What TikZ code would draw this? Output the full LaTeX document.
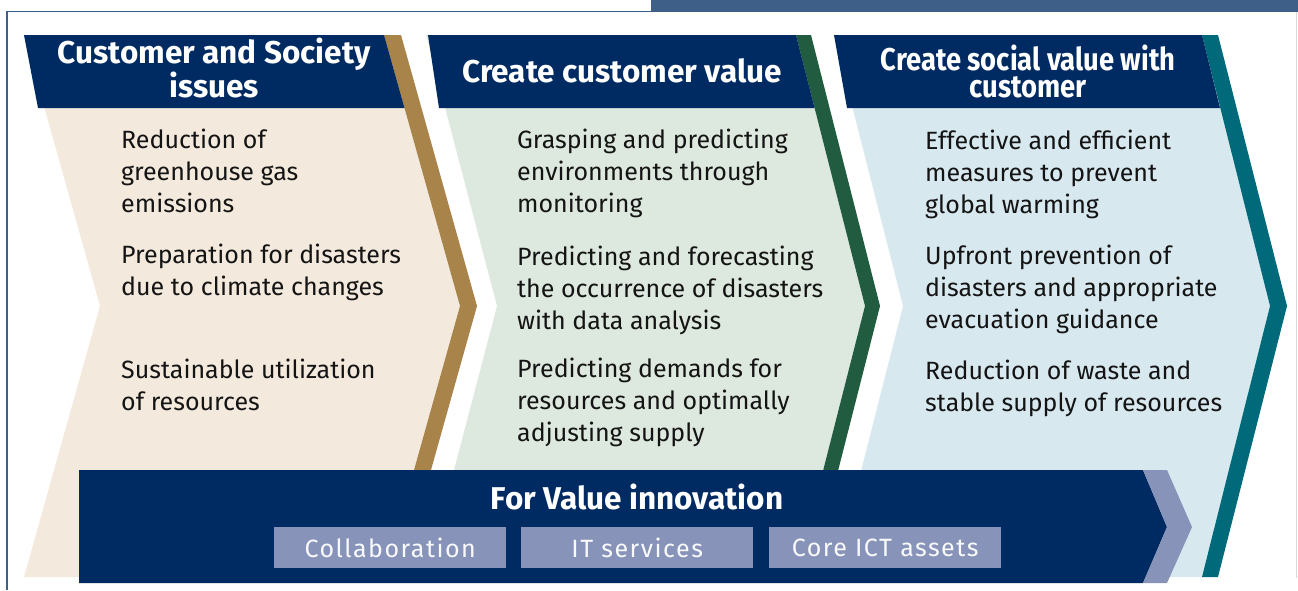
\documentclass[tikz,border=0pt]{standalone}
\usepackage{graphicx}
\usepackage{fontspec}
\setmainfont{Fira Sans}
\definecolor{navy}{HTML}{002B62}
\definecolor{topbar}{HTML}{3E5F87}
\definecolor{beigeb}{HTML}{F3EADD}
\definecolor{brownc}{HTML}{A9844A}
\definecolor{greenb}{HTML}{DDE8DE}
\definecolor{greenc}{HTML}{225C40}
\definecolor{blueb}{HTML}{D8E8EF}
\definecolor{tealc}{HTML}{006A7A}
\definecolor{tagc}{HTML}{8793B8}
\definecolor{txt}{HTML}{141414}
\begin{document}
\begin{tikzpicture}[x=1pt,y=-1pt,
  body/.style={font=\fontsize{25}{32}\selectfont, text=txt, align=left, anchor=base west, inner sep=0pt},
  head/.style={font=\bfseries\fontsize{31.5}{27}\selectfont, text=white, align=center, anchor=base, inner sep=0pt},
  tag/.style={fill=tagc, minimum width=232pt, minimum height=41pt, inner sep=0pt, anchor=north west, font=\fontsize{25}{25}\selectfont\addfontfeatures{LetterSpace=6}, text=white!95!tagc}]
\useasboundingbox (0,0) rectangle (1298,590);
% frame
\fill[topbar] (651,0) rectangle (1298,11);
\draw[topbar, line width=1.2pt] (7,590) -- (7,11.5) -- (1298,11.5);
\draw[black!15, line width=1pt] (1296,12) -- (1296,578);
% chevron 1
\fill[beigeb] (24,35) -- (384,35) -- (460,306) -- (384,577) -- (24,577) -- (100,306) -- cycle;
\fill[brownc] (384,35) -- (401,35) -- (477,306) -- (401,577) -- (384,577) -- (460,306) -- cycle;
\fill[navy] (24,35) -- (384,35) -- (404.5,108) -- (38,108) -- cycle;
% chevron 2
\fill[greenb] (426,35) -- (796,35) -- (865,306) -- (796,577) -- (426,577) -- (497,306) -- cycle;
\fill[greenc] (796,35) -- (811,35) -- (880,306) -- (811,577) -- (796,577) -- (865,306) -- cycle;
\fill[navy] (428,35) -- (796,35) -- (814.6,108) -- (439,108) -- cycle;
% chevron 3
\fill[blueb] (834,35) -- (1202,35) -- (1270,306) -- (1202,577) -- (834,577) -- (903,306) -- cycle;
\fill[tealc] (1202,35) -- (1218,35) -- (1287,306) -- (1218,577) -- (1202,577) -- (1270,306) -- cycle;
\fill[navy] (834,35) -- (1202,35) -- (1220,108) -- (847,108) -- cycle;
% headers (anchor = baseline of last line)
\node[head] (h1) at (214,97) {Customer and Society\\issues};
\node[head] (h2) at (622,82) {Create customer value};
\node[head] (h3) at (1028,97) {\scalebox{0.87}[1]{Create social value with}\\\scalebox{0.87}[1]{customer}};
% body texts (anchor = baseline of last line)
\node[body] (a1) at (121,212) {Reduction of\\greenhouse gas\\emissions};
\node[body] (a2) at (121,295) {Preparation for disasters\\due to climate changes};
\node[body] (a3) at (121,410) {Sustainable utilization\\of resources};
\node[body] (b1) at (517,212) {Grasping and predicting\\environments through\\monitoring};
\node[body] (b2) at (517,329) {Predicting and forecasting\\the occurrence of disasters\\with data analysis};
\node[body] (b3) at (517,441) {Predicting demands for\\resources and optimally\\adjusting supply};
\node[body] (c1) at (925,213) {Effective and efficient\\measures to prevent\\global warming};
\node[body] (c2) at (925,328) {Upfront prevention of\\disasters and appropriate\\evacuation guidance};
\node[body] (c3) at (925,411) {Reduction of waste and\\stable supply of resources};
% bottom bar
\fill[navy] (79,470) -- (1143,470) -- (1167,527) -- (1143,583) -- (79,583) -- cycle;
\fill[tagc] (1143,470) -- (1167,470) -- (1192,527) -- (1167,583) -- (1143,583) -- (1167,527) -- cycle;
\node[head] (fv) at (637,509) {For Value innovation};
\node[tag] (t1) at (274,527) {Collaboration};
\node[tag] (t2) at (521,527) {IT services};
\node[tag] (t3) at (769,527) {Core ICT assets};
\end{tikzpicture}
\end{document}
